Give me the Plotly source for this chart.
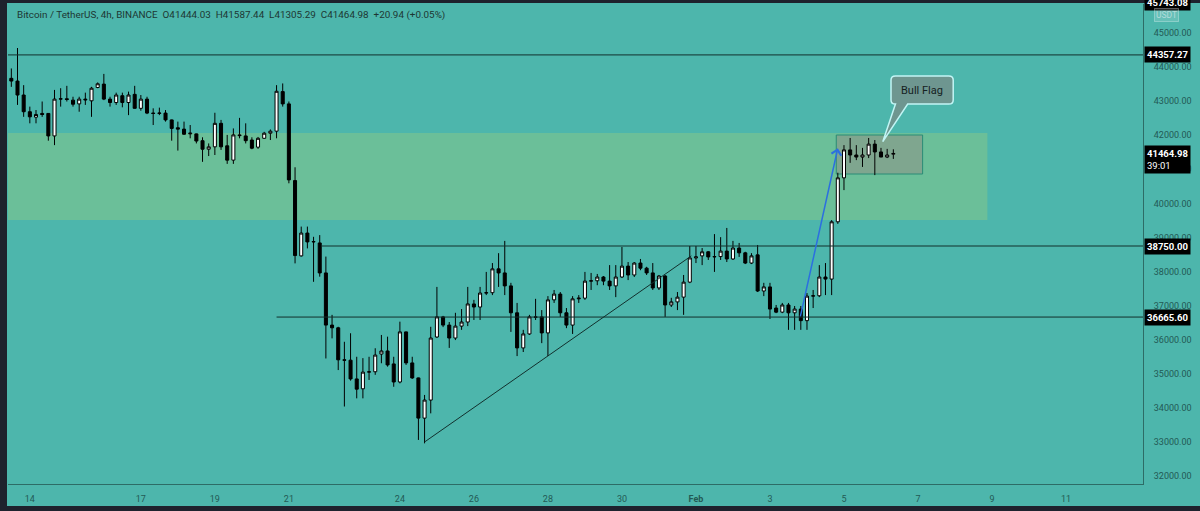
import pandas as pd
import plotly.graph_objects as go

# ---------------- data ----------------
start_time = "2022-01-13 12:00"
n_candles = 144

opens = [43670, 43590, 43180, 42690, 42530, 42640, 42640, 41980, 43060, 43070,
         43030, 42920, 43060, 43010, 43400, 43500, 43060, 42960, 43160, 42960,
         43200, 42790, 43060, 42650, 42640, 42650, 42450, 42220, 42180, 42040,
         42040, 41840, 41590, 41660, 42350, 41690, 41270, 42010, 41980, 41860,
         41650, 41910, 42060, 42120, 43280, 42920, 40670, 38460, 39130, 38870,
         38840, 37960, 36430, 36350, 35410, 35400, 34850, 34560, 35050, 35060,
         35580, 35670, 35290, 34760, 36230, 35320, 34880, 33700, 34230, 36080,
         36670, 36430, 36050, 36400, 36520, 37050, 36960, 37370, 37380, 38080,
         37960, 37580, 36790, 35760, 36170, 36670, 36670, 36200, 37170, 37340,
         36790, 36430, 37200, 37220, 37720, 37730, 37840, 37720, 37580, 37840,
         38160, 37900, 38250, 38100, 37960, 37520, 37870, 37020, 37110, 37250,
         37690, 38400, 38460, 38580, 38430, 38440, 38600, 38370, 38690, 38550,
         38250, 38490, 37430, 37550, 36930, 36810, 37020, 36790, 36900, 36560,
         37280, 37290, 37840, 37780, 39460, 40750, 41570, 41420, 41360, 41420,
         41740, 41510, 41360, 41444.03]
highs = [43960, 44560, 43470, 42840, 42740, 42990, 42650, 43330, 43380, 43450,
         43130, 43130, 43250, 43420, 43550, 43800, 43130, 43250, 43250, 43280,
         43450, 43180, 43130, 42790, 42810, 42740, 42460, 42400, 42400, 42300,
         42050, 41940, 41760, 42660, 42450, 42010, 42200, 42510, 42350, 41940,
         41950, 42100, 42170, 43470, 43520, 42990, 41060, 39320, 39320, 39020,
         39070, 38440, 36730, 36380, 35940, 36190, 35500, 35460, 35500, 35750,
         36140, 36090, 35500, 36530, 36240, 35500, 34890, 34380, 36380, 37550,
         36700, 36520, 36790, 36900, 37550, 37170, 37550, 37990, 38250, 38540,
         38900, 37670, 37080, 36290, 36730, 37200, 36870, 37280, 37460, 37400,
         36930, 37280, 37310, 37990, 37960, 37930, 37870, 38190, 38190, 38720,
         38280, 38280, 38370, 38140, 38250, 37900, 37900, 37230, 37400, 37900,
         38750, 38750, 38690, 38600, 39100, 39010, 39280, 38900, 38840, 38580,
         38540, 38780, 37670, 37670, 37020, 37080, 37080, 36990, 36990, 37370,
         37460, 38190, 38250, 39510, 40900, 41710, 41920, 41710, 41630, 41920,
         41860, 41630, 41600, 41587.44]
lows = [43420, 42890, 42540, 42350, 42350, 42540, 41840, 41710, 42840, 42990,
        42840, 42690, 42890, 42540, 43380, 43030, 42840, 42890, 42820, 42590,
        42780, 42720, 42620, 42300, 42590, 42400, 41840, 41550, 42010, 41910,
        41760, 41220, 41390, 41420, 41570, 41160, 41160, 41910, 41760, 41590,
        41600, 41900, 41860, 41910, 42840, 40590, 38240, 38440, 38680, 37700,
        37850, 35450, 36040, 35110, 34040, 34800, 34280, 34280, 34820, 34970,
        35310, 35210, 34620, 34720, 35260, 34850, 33060, 32960, 33840, 36050,
        36370, 35760, 35990, 36290, 36400, 36580, 36580, 37310, 37310, 37550,
        37310, 36230, 35520, 35640, 36140, 36580, 35900, 35520, 37080, 36670,
        36340, 36170, 37080, 37170, 37460, 37600, 37600, 37460, 37250, 37810,
        37750, 37840, 38040, 37900, 37460, 37460, 36670, 36960, 36870, 36730,
        37660, 38250, 38190, 38340, 37990, 38340, 38280, 38340, 38430, 38220,
        38220, 37400, 37280, 36610, 36780, 36780, 36290, 36290, 36290, 36290,
        36930, 37250, 37310, 37310, 39400, 40390, 41190, 41270, 41070, 41330,
        40830, 41360, 41330, 41305.29]
closes = [43590, 43180, 42690, 42540, 42610, 42610, 41980, 43060, 43070, 43050,
          42910, 43060, 43040, 43380, 43510, 43060, 42960, 43180, 42960, 43180,
          42790, 43060, 42650, 42640, 42650, 42450, 42200, 42180, 42030, 42060,
          41830, 41590, 41660, 42350, 41660, 41270, 42010, 41990, 41840, 41620,
          41910, 42060, 42120, 43290, 42920, 40690, 38470, 39130, 38870, 38880,
          37960, 36430, 36350, 35410, 35400, 34850, 34550, 35050, 35060, 35550,
          35670, 35260, 34760, 36230, 35320, 34880, 33700, 34230, 36050, 36670,
          36430, 36050, 36400, 36520, 37050, 36960, 37370, 37380, 38080, 37960,
          37580, 36790, 35760, 36170, 36670, 36660, 36200, 37170, 37340, 36790,
          36430, 37200, 37220, 37720, 37730, 37840, 37720, 37580, 37840, 38160,
          37900, 38250, 38100, 37960, 37520, 37870, 37020, 37110, 37250, 37690,
          38400, 38430, 38580, 38430, 38440, 38600, 38370, 38690, 38550, 38250,
          38460, 37430, 37550, 36900, 36810, 37020, 36790, 36900, 36560, 37280,
          37290, 37840, 37780, 39460, 40750, 41570, 41420, 41360, 41420, 41740,
          41510, 41360, 41420, 41464.98]

date_tick_dates = ["2022-01-14", "2022-01-17", "2022-01-19", "2022-01-21", "2022-01-24",
                   "2022-01-26", "2022-01-28", "2022-01-30", "2022-02-01", "2022-02-03",
                   "2022-02-05", "2022-02-07", "2022-02-09", "2022-02-11"]
date_tick_labels = ["14", "17", "19", "21", "24", "26", "28", "30", "<b>Feb</b>",
                    "3", "5", "7", "9", "11"]
price_ticks = list(range(32000, 46000, 1000))

level_prices = [44357.27, 38750.00, 36665.60]
level_starts = ["2022-01-13 00:00", "2022-01-21 21:00", "2022-01-20 16:00"]
last_price = 41464.98
countdown = "39:01"
top_hidden_label = "45743.08"
title_text = ("Bitcoin / TetherUS, 4h, BINANCE\u00a0\u00a0O41444.03\u00a0\u00a0H41587.44"
              "\u00a0\u00a0L41305.29\u00a0\u00a0C41464.98\u00a0\u00a0+20.94 (+0.05%)")

zone_end = "2022-02-08 21:00"
zone_low, zone_high = 39513, 42066
trend_pts = [("2022-01-24 16:00", 33000), ("2022-01-31 21:00", 38460)]
arrow_pts = [("2022-02-03 19:30", 36640), ("2022-02-04 20:00", 41620)]
flag_box = [("2022-02-04 19:00", 40863), ("2022-02-07 03:00", 42007)]
callout_box = [("2022-02-06 06:30", 42917), ("2022-02-07 22:50", 43738)]
callout_tip = ("2022-02-06 01:10", 41812)

# ---------------- helpers ----------------
REF = pd.Timestamp("2022-01-01")


def day(s):
    return (pd.Timestamp(s) - REF) / pd.Timedelta(days=1) + 1


times = pd.date_range(start_time, periods=n_candles, freq="4h")
xs = [(t - REF) / pd.Timedelta(days=1) + 1 for t in times]

BG = "#4db6ac"
ZONE = "#6bbf99"
DARK = "#1e222d"
TXT = "#235a55"
LINE = "#12302d"
FONT = "Roboto"

x_min, x_max = 13.41, 44.08
y_min, y_max = 31767, 45851

fig = go.Figure()
fig.add_trace(go.Candlestick(
    x=xs, open=opens, high=highs, low=lows, close=closes,
    increasing=dict(fillcolor="white", line=dict(color="black", width=1)),
    decreasing=dict(fillcolor="black", line=dict(color="black", width=1)),
    whiskerwidth=0, showlegend=False, hoverinfo="skip"))

shapes = []
# support / resistance zone
shapes.append(dict(type="rect", xref="x", yref="y", x0=x_min - 1, x1=day(zone_end),
                   y0=zone_low, y1=zone_high, fillcolor=ZONE, line=dict(width=0),
                   layer="below"))
# bull flag box
shapes.append(dict(type="rect", xref="x", yref="y",
                   x0=day(flag_box[0][0]), x1=day(flag_box[1][0]),
                   y0=flag_box[0][1], y1=flag_box[1][1],
                   fillcolor="#7fa68f", line=dict(color="#2a8c76", width=1), layer="below"))
# horizontal levels
for p, s in zip(level_prices, level_starts):
    shapes.append(dict(type="line", xref="x", yref="y", x0=max(day(s), x_min - 1), x1=x_max + 1,
                       y0=p, y1=p, line=dict(color=LINE, width=1)))
# trend line
shapes.append(dict(type="line", xref="x", yref="y",
                   x0=day(trend_pts[0][0]), y0=trend_pts[0][1],
                   x1=day(trend_pts[1][0]), y1=trend_pts[1][1],
                   line=dict(color=LINE, width=1)))
# callout bubble
cx0, cy0 = day(callout_box[0][0]), callout_box[0][1]
cx1, cy1 = day(callout_box[1][0]), callout_box[1][1]
tx, ty = day(callout_tip[0]), callout_tip[1]
rx, ry = 0.12, 120
path = (f"M {cx0+rx},{cy1} L {cx1-rx},{cy1} Q {cx1},{cy1} {cx1},{cy1-ry} "
        f"L {cx1},{cy0+ry} Q {cx1},{cy0} {cx1-rx},{cy0} "
        f"L {cx0+0.45},{cy0} L {tx},{ty} L {cx0+0.12},{cy0} "
        f"Q {cx0},{cy0} {cx0},{cy0+ry} L {cx0},{cy1-ry} Q {cx0},{cy1} {cx0+rx},{cy1} Z")
shapes.append(dict(type="path", xref="x", yref="y", path=path,
                   fillcolor="#6e9690", line=dict(color="#c2f5f5", width=1.5)))

# dark frame around the screenshot
W, H = 1135, 480
shapes += [
    dict(type="rect", xref="paper", yref="paper", x0=-8 / W, x1=-1 / W, y0=-40 / H, y1=1 + 10 / H,
         fillcolor=DARK, line=dict(width=0)),
    dict(type="rect", xref="paper", yref="paper", x0=-10 / W, x1=1 + 70 / W, y0=-40 / H, y1=-22 / H,
         fillcolor=DARK, line=dict(width=0)),
    dict(type="rect", xref="paper", yref="paper", x0=-10 / W, x1=1 + 70 / W, y0=1 + 1 / H, y1=1 + 10 / H,
         fillcolor=DARK, line=dict(width=0)),
]

annotations = []
# blue arrow
annotations.append(dict(x=day(arrow_pts[1][0]), y=arrow_pts[1][1], xref="x", yref="y",
                        ax=day(arrow_pts[0][0]), ay=arrow_pts[0][1], axref="x", ayref="y",
                        showarrow=True, arrowhead=4, arrowsize=1.3, arrowwidth=1.5,
                        arrowcolor="#2c6fe0", text=""))
# callout text
annotations.append(dict(x=(cx0 + cx1) / 2, y=(cy0 + cy1) / 2, xref="x", yref="y",
                        text="Bull Flag", showarrow=False,
                        font=dict(family=FONT, size=11, color="#15211f")))
# title
annotations.append(dict(x=0, y=1, xref="paper", yref="paper", xanchor="left", yanchor="middle",
                        xshift=7, yshift=-11, text=title_text, showarrow=False,
                        font=dict(family=FONT, size=9.9, color="#1d3633")))
# price labels on axis
for p in level_prices:
    annotations.append(dict(x=1, y=p, xref="paper", yref="y", xanchor="left", yanchor="middle",
                            text=f"<b>{p:.2f}</b>", showarrow=False, bgcolor="black",
                            borderpad=2, xshift=1,
                            font=dict(family=FONT, size=9.5, color="white")))
annotations.append(dict(x=1, y=last_price, xref="paper", yref="y", xanchor="left", yanchor="top",
                        text=f"<b>{last_price:.2f}</b><br>{countdown}", showarrow=False,
                        bgcolor="black", borderpad=2, xshift=1, yshift=8, align="left",
                        font=dict(family=FONT, size=9.5, color="white")))
annotations.append(dict(x=1, y=1, xref="paper", yref="paper", xanchor="left", yanchor="middle",
                        text=f"<b>{top_hidden_label}</b>", showarrow=False, bgcolor="black",
                        borderpad=2, xshift=1, yshift=2,
                        font=dict(family=FONT, size=9.5, color="white")))
annotations.append(dict(x=1, y=1, xref="paper", yref="paper", xanchor="left", yanchor="middle",
                        text="USDT", showarrow=False, bgcolor="rgba(255,255,255,0.15)",
                        bordercolor="rgba(255,255,255,0.3)", borderwidth=1, borderpad=1,
                        xshift=11, yshift=-11,
                        font=dict(family=FONT, size=8.5, color="#b4dcda")))

fig.update_layout(
    width=1200, height=511,
    margin=dict(l=8, r=57, t=4, b=27),
    paper_bgcolor=BG, plot_bgcolor=BG,
    shapes=shapes, annotations=annotations,
    showlegend=False,
    xaxis=dict(range=[x_min, x_max], rangeslider=dict(visible=False),
               tickvals=[day(d) for d in date_tick_dates], ticktext=date_tick_labels,
               showgrid=False, zeroline=False, showline=True, linecolor="#2d6c66", linewidth=1,
               ticks="", ticklabelstandoff=6,
               tickfont=dict(family=FONT, size=9, color=TXT)),
    yaxis=dict(range=[y_min, y_max], side="right", tickvals=price_ticks,
               ticktext=[f"{v:.2f}" for v in price_ticks],
               showgrid=False, zeroline=False, showline=True, linecolor="#2d6c66", linewidth=1,
               ticks="", ticklabelstandoff=8,
               tickfont=dict(family=FONT, size=9, color=TXT)),
)

fig.write_html("out.html")
